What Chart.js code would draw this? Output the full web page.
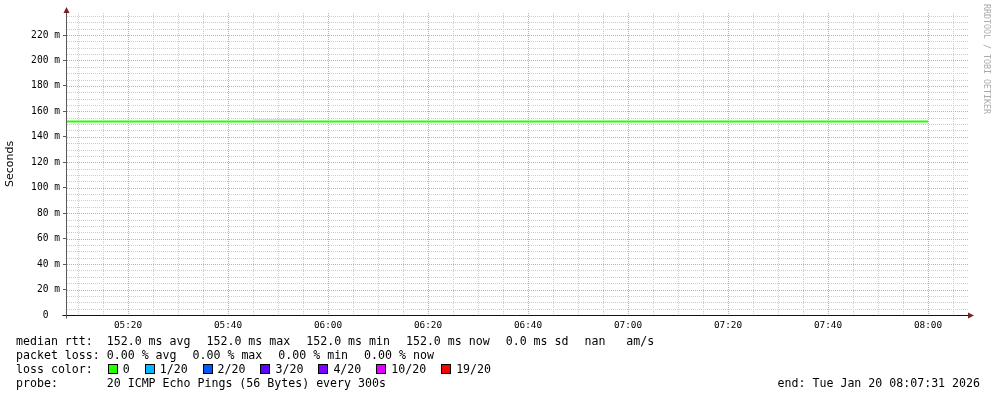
<!DOCTYPE html>
<html>
<head>
<meta charset="utf-8">
<script src="https://cdn.jsdelivr.net/npm/chart.js@4.4.1/dist/chart.umd.min.js"></script>
<style>
  html, body { margin: 0; padding: 0; background: #fff; }
  #wrap { position: relative; width: 997px; height: 397px; }
  #wrap canvas { position: absolute; left: 0; top: 0; }
  .legend { position: absolute; left: 16px; top: 334px; font: 11.6px 'DejaVu Sans Mono', monospace;
            line-height: 14px; white-space: pre; color: #000; }
  .g { letter-spacing: 1px; }
  .sq { display: inline-block; width: 8px; height: 8px; border: 1px solid #000; margin: 0 5px 0 1px; vertical-align: -1px; }
  .end { position: absolute; right: 17px; top: 376px; font: 11.6px 'DejaVu Sans Mono', monospace;
         line-height: 14px; white-space: pre; color: #000; }
  .mark { position: absolute; left: 982px; top: 4px; writing-mode: vertical-rl; font: 8.3px 'DejaVu Sans Mono', monospace;
          color: #aaaaaa; white-space: pre; }
</style>
</head>
<body>
<div id="wrap">
  <canvas id="rttChart" width="997" height="397"></canvas>
  <div class="legend" id="legend"></div>
  <div class="end">end: Tue Jan 20 08:07:31 2026</div>
  <div class="mark">RRDTOOL / TOBI OETIKER</div>
</div>
<script>
'use strict';

// median rtt samples (ms), one every 300s
const times = ['05:05', '05:10', '05:15', '05:20', '05:25', '05:30', '05:35', '05:40', '05:45',
  '05:50', '05:55', '06:00', '06:05', '06:10', '06:15', '06:20', '06:25', '06:30', '06:35',
  '06:40', '06:45', '06:50', '06:55', '07:00', '07:05', '07:10', '07:15', '07:20', '07:25',
  '07:30', '07:35', '07:40', '07:45', '07:50', '07:55', '08:00'];
const medianRtt = [152.0, 152.0, 152.0, 152.0, 152.0, 152.0, 152.0, 152.0, 152.0,
  152.0, 152.0, 152.0, 152.0, 152.0, 152.0, 152.0, 152.0, 152.0, 152.0,
  152.0, 152.0, 152.0, 152.0, 152.0, 152.0, 152.0, 152.0, 152.0, 152.0,
  152.0, 152.0, 152.0, 152.0, 152.0, 152.0, 152.0];
// the little bit of smoke above the median
const smokeTimes = ['05:45', '05:50', '05:55'];
const smokeMax = [153.3, 153.3, 153.3];

const xLabels = ['05:20', '05:40', '06:00', '06:20', '06:40', '07:00', '07:20', '07:40', '08:00'];
const yLabels = [0, 20, 40, 60, 80, 100, 120, 140, 160, 180, 200, 220];

const lossNames = ['0', '1/20', '2/20', '3/20', '4/20', '10/20', '19/20'];
const lossColors = ['#26ff00', '#00b8ff', '#0059ff', '#5e00ff', '#7e00ff', '#dd00ff', '#ff0000'];

const toMin = (t) => {
  const [h, m] = t.split(':').map(Number);
  return h * 60 + m;
};
const fmtMin = (v) => {
  const h = Math.floor(v / 60);
  const m = Math.round(v - h * 60);
  return String(h).padStart(2, '0') + ':' + String(m).padStart(2, '0');
};
const isMajorX = (v) => xLabels.includes(fmtMin(v));
const isMajorY = (v) => yLabels.includes(v);

const MGRID = 'rgb(238, 155, 155)';
const GRID = 'rgb(205, 205, 205)';

// rrdtool style dotted grid, one pixel on / one off, placed by the scales
const gridPlugin = {
  id: 'rrdGrid',
  beforeDatasetsDraw(chart) {
    const { ctx, chartArea, scales } = chart;
    const { left, right, top, bottom } = chartArea;
    ctx.save();
    [false, true].forEach((major) => {
      ctx.fillStyle = major ? MGRID : GRID;
      scales.y.ticks.forEach((t) => {
        if (isMajorY(t.value) !== major || t.value === 0) return;
        const y = Math.round(scales.y.getPixelForValue(t.value));
        for (let x = Math.round(left); x < right; x += 2) ctx.fillRect(x, y, 1, 1);
      });
      scales.x.ticks.forEach((t) => {
        if (isMajorX(t.value) !== major) return;
        const x = Math.round(scales.x.getPixelForValue(t.value));
        for (let y = Math.round(top); y < bottom; y += 2) ctx.fillRect(x, y, 1, 1);
      });
    });
    ctx.restore();
  },
  afterDatasetsDraw(chart) {
    const { ctx, chartArea } = chart;
    const { left, right, top, bottom } = chartArea;
    const ax = Math.round(left) - 0.5;
    const ay = Math.round(bottom) + 0.5;
    ctx.save();
    ctx.lineWidth = 1;
    ctx.strokeStyle = '#111';
    ctx.beginPath();
    ctx.moveTo(ax - 4, ay);
    ctx.lineTo(right + 1, ay);
    ctx.stroke();
    ctx.strokeStyle = '#5a5a5a';
    ctx.beginPath();
    ctx.moveTo(ax, ay + 3);
    ctx.lineTo(ax, top - 1);
    ctx.stroke();
    ctx.fillStyle = '#801f1f';
    ctx.beginPath();
    ctx.moveTo(ax - 3, top);
    ctx.lineTo(ax + 3, top);
    ctx.lineTo(ax, top - 6);
    ctx.closePath();
    ctx.fill();
    ctx.beginPath();
    ctx.moveTo(right - 1, ay - 3);
    ctx.lineTo(right - 1, ay + 3);
    ctx.lineTo(right + 5, ay);
    ctx.closePath();
    ctx.fill();
    ctx.restore();
  },
};

const ctx = document.getElementById('rttChart');

new Chart(ctx, {
  type: 'line',
  data: {
    datasets: [
      {
        label: 'smoke',
        data: smokeTimes.map((t, i) => ({ x: toMin(t), y: smokeMax[i] })),
        borderColor: '#c8c8c8',
        borderWidth: 1,
        pointRadius: 0,
      },
      {
        label: 'median rtt',
        data: times.map((t, i) => ({ x: toMin(t), y: medianRtt[i] })),
        borderColor: lossColors[0],
        borderWidth: 2,
        pointRadius: 0,
      },
    ],
  },
  options: {
    responsive: false,
    animation: false,
    devicePixelRatio: 1,
    layout: { padding: { left: 0, right: 28, top: 13, bottom: 62 } },
    plugins: { legend: { display: false }, tooltip: { enabled: false } },
    scales: {
      x: {
        type: 'linear',
        min: 307.8,
        max: 488.2,
        afterBuildTicks: (axis) => {
          const ticks = [];
          for (let v = 310; v <= 485; v += 5) ticks.push({ value: v });
          axis.ticks = ticks;
        },
        afterFit: (axis) => { axis.height = 20; },
        border: { display: false },
        grid: { drawOnChartArea: false, tickColor: 'transparent', tickLength: 3 },
        ticks: {
          autoSkip: false,
          maxRotation: 0,
          padding: 2,
          color: '#000',
          font: { family: "'DejaVu Sans Mono', monospace", size: 9.4 },
          callback: (v) => (isMajorX(v) ? fmtMin(v) : ''),
        },
      },
      y: {
        min: 0,
        max: 237.3,
        afterBuildTicks: (axis) => {
          const ticks = [];
          for (let v = 0; v <= 235; v += 5) ticks.push({ value: v });
          axis.ticks = ticks;
        },
        afterFit: (axis) => { axis.width = 67; },
        border: { display: false },
        grid: {
          drawOnChartArea: false,
          tickColor: (c) => (c.tick && isMajorY(c.tick.value) ? '#5a5a5a' : 'transparent'),
          tickLength: 4,
        },
        ticks: {
          autoSkip: false,
          padding: 3,
          color: '#000',
          font: { family: "'DejaVu Sans Mono', monospace", size: 9.6 },
          callback: (v) => (isMajorY(v) ? (v === 0 ? '0  ' : v + ' m') : ''),
        },
        title: {
          display: true,
          text: 'Seconds',
          color: '#000',
          padding: { top: 4, bottom: 4 },
          font: { family: "'DejaVu Sans', sans-serif", size: 11 },
        },
      },
    },
  },
  plugins: [gridPlugin],
});

// text legend underneath, rrdtool style
const gap = '<span class="g">  </span>';
const legend = document.getElementById('legend');
let html = 'median rtt:  ' + ['152.0 ms avg', '152.0 ms max', '152.0 ms min', '152.0 ms now', '0.0 ms sd', 'nan'].join(gap) + '   am/s\n';
html += 'packet loss: ' + ['0.00 % avg', '0.00 % max', '0.00 % min', '0.00 % now'].join(gap) + '\n';
html += 'loss color:  ';
lossNames.forEach((name, i) => {
  html += '<span class="sq" style="background:' + lossColors[i] + '"></span>' + name;
  if (i < lossNames.length - 1) html += '  ';
});
html += '\nprobe:       20 ICMP Echo Pings (56 Bytes) every 300s';
legend.innerHTML = html;
</script>
</body>
</html>
